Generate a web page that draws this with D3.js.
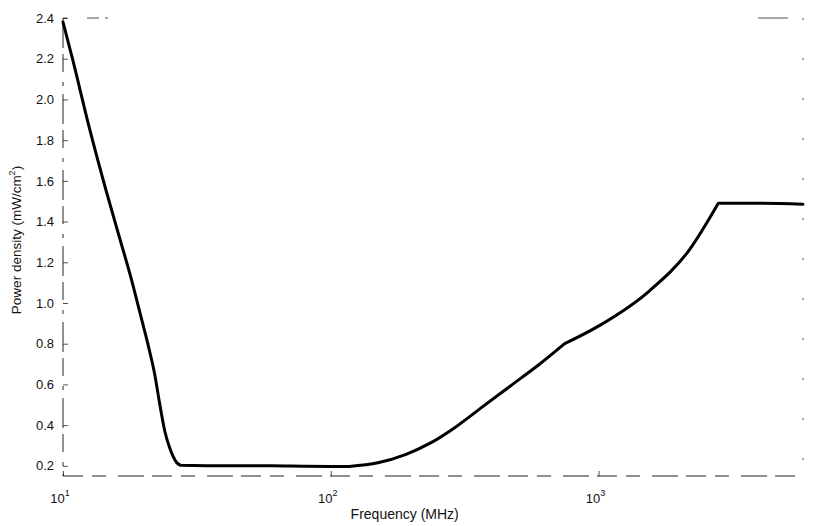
<!DOCTYPE html>
<html>
<head>
<meta charset="utf-8">
<script src="https://cdn.jsdelivr.net/npm/d3@7"></script>
<style>
  html, body { margin: 0; padding: 0; background: #fff; }
  svg { display: block; }
  text { font-family: "Liberation Sans", Arial, Helvetica, sans-serif; fill: #111; }
</style>
</head>
<body>
<svg id="chart" width="813" height="526"></svg>
<script>
// ---- data ----
const freqMHz = [10, 10.8, 12.6, 14.5, 16.1, 17.8, 19.4, 21, 22, 23, 24, 25, 25.8, 26.6, 27.5,
                 40, 60, 80, 100, 117, 150, 190, 234, 292, 360, 466, 603, 747,
                 1010, 1550, 2180, 2800, 4000, 5800];
const powerDensity = [2.38, 2.21, 1.85, 1.55, 1.34, 1.14, 0.95, 0.77, 0.65, 0.50, 0.37, 0.29, 0.245, 0.215, 0.203,
                      0.2, 0.2, 0.198, 0.197, 0.197, 0.215, 0.255, 0.31, 0.39, 0.48, 0.59, 0.70, 0.80,
                      0.89, 1.06, 1.26, 1.49, 1.49, 1.485];
// frequencies where the curve has a corner
const cornerMHz = [27.5, 117, 747, 2800];
const xTickValues = [10, 100, 1000];
const xTickExponents = ["1", "2", "3"];
const yTickValues = [0.2, 0.4, 0.6, 0.8, 1.0, 1.2, 1.4, 1.6, 1.8, 2.0, 2.2, 2.4];
const xDomain = [10, 5800];
const yDomain = [0.15, 2.4];
const xTitle = "Frequency (MHz)";

// ---- layout ----
const svg = d3.select("#chart");
const mLeft = 63, mRight = 803, mTop = 18, mBottom = 476;

const x = d3.scaleLog().domain(xDomain).range([mLeft, mRight]);
const y = d3.scaleLinear().domain(yDomain).range([mBottom, mTop]);

// frame (broken, like the scanned original)
const frame = svg.append("g").attr("stroke", "#222").attr("fill", "none");
frame.append("line").attr("x1", mLeft).attr("x2", mRight).attr("y1", mBottom).attr("y2", mBottom)
  .attr("stroke-width", 1).attr("stroke-dasharray", "20,9,14,12,26,8");
frame.append("line").attr("x1", mLeft).attr("x2", mRight).attr("y1", mTop).attr("y2", mTop)
  .attr("stroke-width", 0.8).attr("stroke-dasharray", "4,20,12,6,3,650,30,15");
frame.append("line").attr("x1", mLeft).attr("x2", mLeft).attr("y1", mTop).attr("y2", mBottom)
  .attr("stroke-width", 1).attr("stroke-dasharray", "30,6,18,10,4,8");
frame.append("line").attr("x1", mRight).attr("x2", mRight).attr("y1", mTop).attr("y2", mBottom)
  .attr("stroke-width", 0.8).attr("stroke-dasharray", "2,38");

// y axis ticks (inward) and labels
const yAxis = d3.axisRight(y).tickValues(yTickValues).tickSize(5).tickFormat(d3.format(".1f"));
const gy = svg.append("g").attr("transform", `translate(${mLeft},0)`).call(yAxis);
gy.select(".domain").remove();
gy.selectAll(".tick line").attr("stroke", "#222").attr("stroke-width", 0.8);
gy.selectAll(".tick text")
  .attr("x", -9).attr("text-anchor", "end")
  .attr("font-size", 13).attr("fill", "#111")
  .style("font-family", "'Liberation Sans', Arial, sans-serif");

// x axis ticks (inward) and power-of-ten labels
const xAxis = d3.axisTop(x).tickValues(xTickValues).tickSize(5).tickFormat("");
const gx = svg.append("g").attr("transform", `translate(0,${mBottom})`).call(xAxis);
gx.select(".domain").remove();
gx.selectAll(".tick line").attr("stroke", "#222").attr("stroke-width", 0.8);

const xl = svg.append("g");
xTickValues.forEach((v, i) => {
  const t = xl.append("text")
    .attr("x", x(v) - 3).attr("y", mBottom + 27)
    .attr("text-anchor", "middle").attr("font-size", 13);
  t.append("tspan").text("10");
  t.append("tspan").attr("dy", -7).attr("font-size", 9).text(xTickExponents[i]);
});

// axis titles
svg.append("text")
  .attr("x", (x(100) + x(1000)) / 2 - 60).attr("y", 519)
  .attr("text-anchor", "middle").attr("font-size", 14)
  .text(xTitle);

const yt = svg.append("text")
  .attr("transform", `translate(21,240) rotate(-90)`)
  .attr("text-anchor", "middle").attr("font-size", 13.5);
yt.append("tspan").text("Power density (mW/cm");
yt.append("tspan").attr("dy", -6).attr("font-size", 9).text("2");
yt.append("tspan").attr("dy", 6).text(")");

// the curve: smooth pieces joined at sharp corners
const pts = freqMHz.map((f, i) => [f, powerDensity[i]]);
const bounds = [xDomain[0], ...cornerMHz, xDomain[1]];
const segs = d3.pairs(bounds).map(([a, b]) => pts.filter(p => p[0] >= a && p[0] <= b));
const line = d3.line().x(d => x(d[0])).y(d => y(d[1])).curve(d3.curveMonotoneX);
svg.append("path")
  .attr("d", segs.map(s => line(s)).join("").replace(/M/g, (m, off) => off === 0 ? "M" : "L"))
  .attr("fill", "none").attr("stroke", "#000")
  .attr("stroke-width", 3).attr("stroke-linejoin", "round").attr("stroke-linecap", "round");
</script>
</body>
</html>
